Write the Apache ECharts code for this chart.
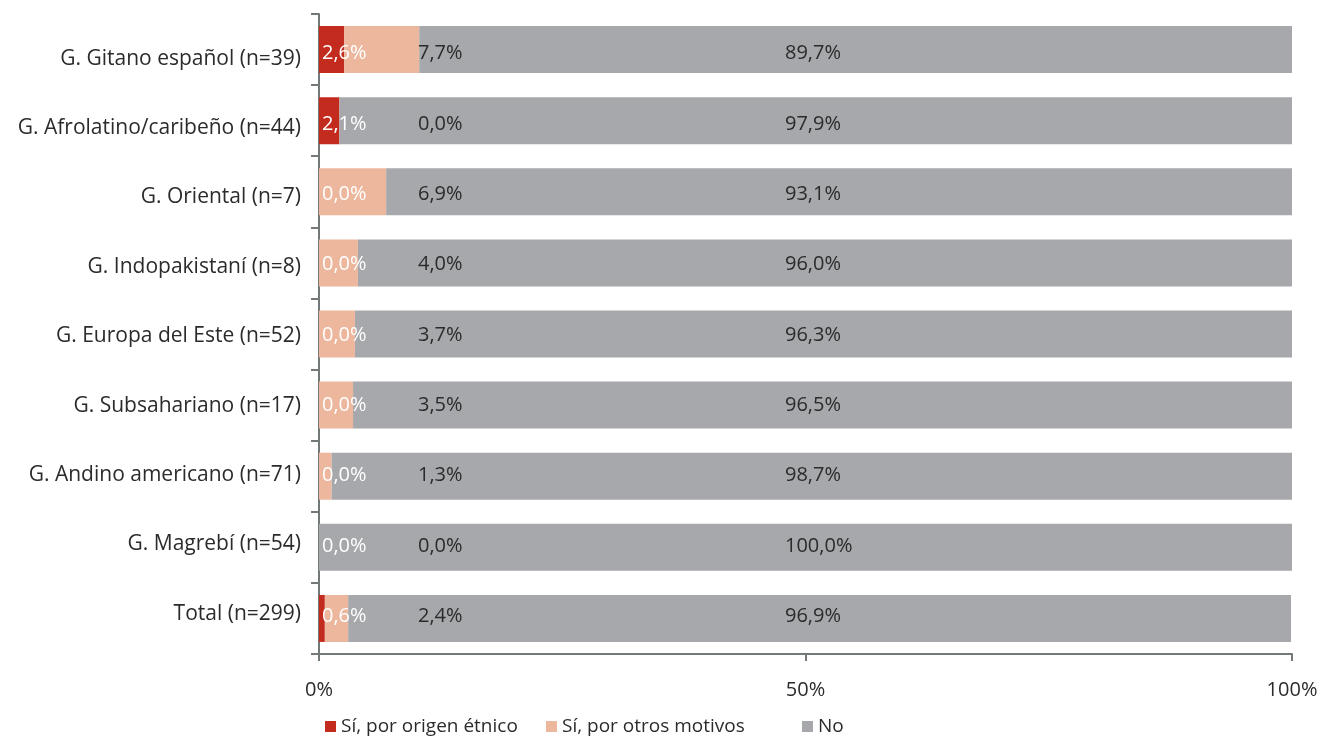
<!DOCTYPE html>
<html>
<head>
<meta charset="utf-8">
<script src="https://cdn.jsdelivr.net/npm/echarts@6/dist/echarts.min.js"></script>
<style>
  html, body { margin: 0; padding: 0; background: #fff; }
  #chart { width: 1317px; height: 736px; }
</style>
</head>
<body>
<div id="chart"></div>
<script>
const categories = [
  "G. Gitano español (n=39)",
  "G. Afrolatino/caribeño (n=44)",
  "G. Oriental (n=7)",
  "G. Indopakistaní (n=8)",
  "G. Europa del Este (n=52)",
  "G. Subsahariano (n=17)",
  "G. Andino americano (n=71)",
  "G. Magrebí (n=54)",
  "Total (n=299)"
];
const seriesNames = ["Sí, por origen étnico", "Sí, por otros motivos", "No"];
const origenEtnico = [2.6, 2.1, 0.0, 0.0, 0.0, 0.0, 0.0, 0.0, 0.6];
const otrosMotivos = [7.7, 0.0, 6.9, 4.0, 3.7, 3.5, 1.3, 0.0, 2.4];
const noValues = [89.7, 97.9, 93.1, 96.0, 96.3, 96.5, 98.7, 100.0, 96.9];
const xTicks = [0, 50, 100];

const colors = ["#c22b1d", "#ecb79c", "#a7a8ab"];
const font = "'Open Sans', sans-serif";
const textColor = "#2b2b2b";

// plot area in pixels
const gridLeft = 319, gridRight = 25, plotW = 1317 - gridLeft - gridRight;
const barH = 47;
// fixed x where the labels of series 2 and 3 start (Excel-like placement)
const lab2X = 99, lab3X = 466;
// small vertical drift of the texts, as in the original
const catShift = i => 9 - 1.7 * i;
const valShift = i => 4 - 0.75 * i;

const fmt = v => v.toFixed(1).replace(".", ",") + "%";

function items(vals, starts, fixedX) {
  return vals.map((v, i) => {
    const x = fixedX == null ? 3 : fixedX - starts[i] / 100 * plotW;
    return { value: v, label: { position: [x, barH / 2 + valShift(i)] } };
  });
}

const start2 = origenEtnico;
const start3 = origenEtnico.map((v, i) => v + otrosMotivos[i]);

const catRich = {};
categories.forEach((c, i) => {
  const s = catShift(i);
  catRich["c" + i] = {
    fontSize: 21, color: textColor, fontFamily: font,
    padding: s >= 0 ? [2 * s, 0, 0, 0] : [0, 0, -2 * s, 0]
  };
});

const valueLabel = color => ({
  show: true, align: "left", verticalAlign: "middle",
  color: color, fontSize: 20, fontFamily: font,
  formatter: p => fmt(p.value)
});

const chart = echarts.init(document.getElementById("chart"));
chart.setOption({
  animation: false,
  textStyle: { fontFamily: font },
  grid: { left: gridLeft, right: gridRight, top: 14, bottom: 82, outerBoundsMode: "none" },
  legend: seriesNames.map((n, i) => ({
    data: [n],
    left: [320, 541, 797][i],
    top: 712,
    icon: "rect",
    itemWidth: 11,
    itemHeight: 11,
    itemGap: 10,
    textStyle: { fontFamily: font, fontSize: 19, color: textColor }
  })),
  xAxis: {
    type: "value",
    min: 0,
    max: 100,
    interval: 50,
    splitLine: { show: false },
    axisLine: { show: true, lineStyle: { color: "#737878", width: 2 } },
    axisTick: { show: true, length: 7, lineStyle: { color: "#737878", width: 2 } },
    axisLabel: {
      formatter: v => xTicks.includes(v) ? v + "%" : "",
      fontSize: 20, color: textColor, margin: 26, fontFamily: font
    }
  },
  yAxis: {
    type: "category",
    data: categories,
    inverse: true,
    axisLine: { show: true, lineStyle: { color: "#737878", width: 2 } },
    axisTick: { show: true, length: 8, alignWithLabel: false, lineStyle: { color: "#737878", width: 2 } },
    axisLabel: {
      margin: 18,
      formatter: (v, i) => "{c" + i + "|" + v + "}",
      rich: catRich
    }
  },
  series: [
    {
      name: seriesNames[0], type: "bar", stack: "t", barWidth: barH,
      itemStyle: { color: colors[0] },
      label: valueLabel("#fff"),
      data: items(origenEtnico, null, null)
    },
    {
      name: seriesNames[1], type: "bar", stack: "t", barWidth: barH,
      itemStyle: { color: colors[1] },
      label: valueLabel(textColor),
      data: items(otrosMotivos, start2, lab2X)
    },
    {
      name: seriesNames[2], type: "bar", stack: "t", barWidth: barH,
      itemStyle: { color: colors[2] },
      label: valueLabel(textColor),
      data: items(noValues, start3, lab3X)
    }
  ]
});
</script>
</body>
</html>
